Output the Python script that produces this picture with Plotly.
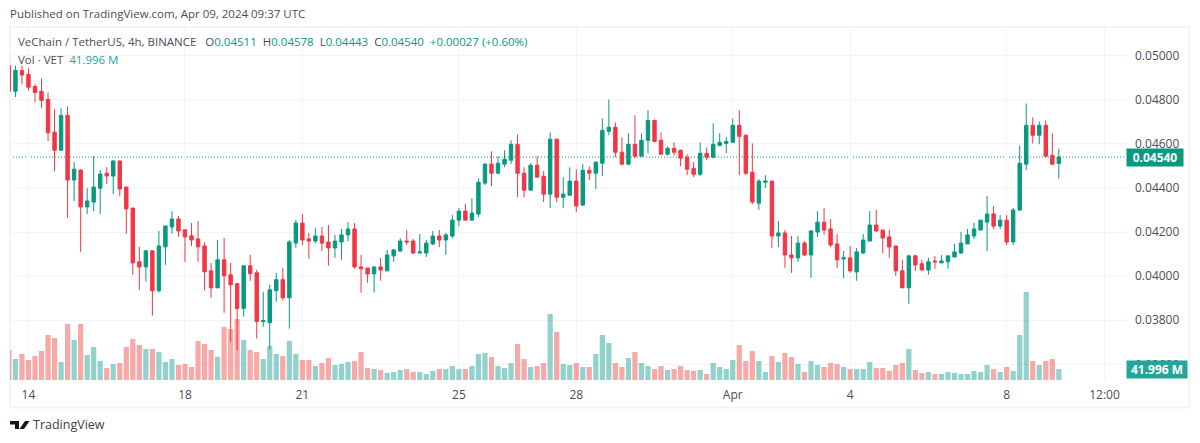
import pandas as pd
import plotly.graph_objects as go

# 4h candles, Mar 13 12:00 to Apr 9 08:00
times = pd.date_range("2024-03-13 12:00", periods=162, freq="4h")

opens = [
    0.04955, 0.04839, 0.04933, 0.04915, 0.04860, 0.04838, 0.04802, 0.04653, 0.04571, 0.04729, 0.04436, 0.04481,
    0.04314, 0.04336, 0.04399, 0.04467, 0.04454, 0.04522, 0.04404, 0.04309, 0.04065, 0.04042, 0.04115, 0.03934,
    0.04133, 0.04223, 0.04259, 0.04210, 0.04183, 0.04169, 0.04137, 0.04024, 0.03947, 0.04074, 0.04006, 0.03966,
    0.03853, 0.04047, 0.04015, 0.03794, 0.03789, 0.03934, 0.03984, 0.03902, 0.04150, 0.04241, 0.04169, 0.04159,
    0.04182, 0.04155, 0.04128, 0.04155, 0.04187, 0.04214, 0.04042, 0.04037, 0.04010, 0.04042, 0.04024, 0.04092,
    0.04114, 0.04159, 0.04159, 0.04105, 0.04105, 0.04146, 0.04182, 0.04164, 0.04182, 0.04254, 0.04295, 0.04254,
    0.04282, 0.04422, 0.04508, 0.04467, 0.04508, 0.04526, 0.04598, 0.04467, 0.04390, 0.04503, 0.04453, 0.04372,
    0.04621, 0.04358, 0.04367, 0.04431, 0.04322, 0.04480, 0.04467, 0.04512, 0.04657, 0.04675, 0.04562, 0.04508,
    0.04598, 0.04544, 0.04616, 0.04706, 0.04616, 0.04553, 0.04580, 0.04571, 0.04539, 0.04489, 0.04462, 0.04557,
    0.04539, 0.04593, 0.04602, 0.04607, 0.04684, 0.04639, 0.04471, 0.04331, 0.04426, 0.04431, 0.04182, 0.04196,
    0.04096, 0.04083, 0.04150, 0.04096, 0.04200, 0.04245, 0.04214, 0.04146, 0.04078, 0.04083, 0.04019, 0.04105,
    0.04159, 0.04232, 0.04209, 0.04178, 0.04137, 0.04024, 0.03947, 0.04092, 0.04056, 0.04028, 0.04069, 0.04060,
    0.04065, 0.04087, 0.04105, 0.04146, 0.04182, 0.04209, 0.04245, 0.04282, 0.04227, 0.04254, 0.04155, 0.04300,
    0.04508, 0.04684, 0.04639, 0.04684, 0.04548, 0.04511,
]
highs = [
    0.04955, 0.04955, 0.04955, 0.04942, 0.04870, 0.04897, 0.04833, 0.04757, 0.04761, 0.04770, 0.04517, 0.04485,
    0.04399, 0.04544, 0.04481, 0.04494, 0.04526, 0.04526, 0.04404, 0.04309, 0.04133, 0.04115, 0.04115, 0.04205,
    0.04228, 0.04295, 0.04273, 0.04210, 0.04241, 0.04250, 0.04155, 0.04060, 0.04164, 0.04173, 0.04060, 0.03966,
    0.04047, 0.04097, 0.04029, 0.03929, 0.03961, 0.04015, 0.04038, 0.04164, 0.04254, 0.04282, 0.04196, 0.04218,
    0.04223, 0.04232, 0.04187, 0.04214, 0.04245, 0.04241, 0.04096, 0.04037, 0.04042, 0.04083, 0.04119, 0.04123,
    0.04173, 0.04209, 0.04169, 0.04191, 0.04164, 0.04205, 0.04209, 0.04196, 0.04277, 0.04309, 0.04327, 0.04354,
    0.04444, 0.04512, 0.04566, 0.04544, 0.04571, 0.04616, 0.04643, 0.04494, 0.04512, 0.04544, 0.04476, 0.04652,
    0.04625, 0.04449, 0.04494, 0.04485, 0.04508, 0.04498, 0.04521, 0.04715, 0.04801, 0.04697, 0.04630, 0.04648,
    0.04729, 0.04648, 0.04752, 0.04711, 0.04652, 0.04589, 0.04607, 0.04575, 0.04553, 0.04517, 0.04607, 0.04584,
    0.04693, 0.04648, 0.04630, 0.04715, 0.04752, 0.04643, 0.04602, 0.04440, 0.04458, 0.04431, 0.04250, 0.04209,
    0.04182, 0.04182, 0.04159, 0.04209, 0.04295, 0.04309, 0.04259, 0.04191, 0.04114, 0.04137, 0.04128, 0.04191,
    0.04295, 0.04300, 0.04209, 0.04209, 0.04137, 0.04074, 0.04096, 0.04096, 0.04074, 0.04083, 0.04092, 0.04096,
    0.04092, 0.04146, 0.04200, 0.04214, 0.04241, 0.04254, 0.04363, 0.04318, 0.04277, 0.04277, 0.04309, 0.04593,
    0.04783, 0.04720, 0.04702, 0.04706, 0.04648, 0.04578,
]
lows = [
    0.04839, 0.04812, 0.04870, 0.04842, 0.04788, 0.04761, 0.04612, 0.04476, 0.04571, 0.04264, 0.04341, 0.04110,
    0.04282, 0.04295, 0.04282, 0.04418, 0.04372, 0.04363, 0.04192, 0.04006, 0.03938, 0.03975, 0.03821, 0.03925,
    0.04051, 0.04192, 0.04178, 0.04065, 0.04137, 0.04065, 0.03934, 0.03902, 0.03947, 0.03834, 0.03703, 0.03664,
    0.03816, 0.03979, 0.03717, 0.03771, 0.03667, 0.03884, 0.03889, 0.03762, 0.04128, 0.04141, 0.04078, 0.04150,
    0.04114, 0.04047, 0.04083, 0.04074, 0.04159, 0.04033, 0.03925, 0.03970, 0.03925, 0.03979, 0.04024, 0.04065,
    0.04110, 0.04141, 0.04101, 0.04105, 0.04087, 0.04141, 0.04132, 0.04096, 0.04173, 0.04227, 0.04254, 0.04254,
    0.04268, 0.04413, 0.04408, 0.04462, 0.04494, 0.04508, 0.04358, 0.04358, 0.04390, 0.04449, 0.04336, 0.04309,
    0.04336, 0.04309, 0.04367, 0.04291, 0.04322, 0.04435, 0.04395, 0.04453, 0.04639, 0.04539, 0.04503, 0.04503,
    0.04535, 0.04544, 0.04557, 0.04607, 0.04553, 0.04548, 0.04548, 0.04498, 0.04458, 0.04449, 0.04453, 0.04526,
    0.04535, 0.04589, 0.04557, 0.04607, 0.04458, 0.04458, 0.04327, 0.04300, 0.04399, 0.04128, 0.04132, 0.04037,
    0.04015, 0.04065, 0.04092, 0.03992, 0.04178, 0.04187, 0.04132, 0.04037, 0.03992, 0.04015, 0.03979, 0.04101,
    0.04159, 0.04200, 0.04105, 0.04083, 0.04001, 0.03947, 0.03875, 0.04024, 0.04028, 0.04006, 0.04033, 0.04060,
    0.04033, 0.04087, 0.04101, 0.04146, 0.04169, 0.04209, 0.04114, 0.04214, 0.04214, 0.04141, 0.04141, 0.04295,
    0.04480, 0.04602, 0.04598, 0.04544, 0.04503, 0.04443,
]
closes = [
    0.04839, 0.04933, 0.04912, 0.04857, 0.04833, 0.04797, 0.04650, 0.04571, 0.04729, 0.04436, 0.04485, 0.04314,
    0.04341, 0.04404, 0.04463, 0.04454, 0.04522, 0.04395, 0.04305, 0.04060, 0.04042, 0.04115, 0.03934, 0.04137,
    0.04228, 0.04259, 0.04205, 0.04178, 0.04164, 0.04133, 0.04020, 0.03947, 0.04074, 0.04002, 0.03961, 0.03853,
    0.04047, 0.04011, 0.03794, 0.03798, 0.03938, 0.03984, 0.03902, 0.04155, 0.04241, 0.04164, 0.04159, 0.04182,
    0.04150, 0.04128, 0.04159, 0.04187, 0.04214, 0.04042, 0.04033, 0.04010, 0.04042, 0.04028, 0.04096, 0.04119,
    0.04159, 0.04155, 0.04105, 0.04110, 0.04150, 0.04182, 0.04164, 0.04187, 0.04254, 0.04295, 0.04254, 0.04286,
    0.04426, 0.04508, 0.04467, 0.04512, 0.04530, 0.04598, 0.04467, 0.04390, 0.04503, 0.04449, 0.04372, 0.04621,
    0.04358, 0.04372, 0.04431, 0.04318, 0.04480, 0.04467, 0.04517, 0.04661, 0.04675, 0.04562, 0.04508, 0.04598,
    0.04544, 0.04616, 0.04706, 0.04611, 0.04553, 0.04580, 0.04562, 0.04535, 0.04485, 0.04462, 0.04557, 0.04539,
    0.04598, 0.04607, 0.04611, 0.04684, 0.04634, 0.04467, 0.04336, 0.04431, 0.04431, 0.04182, 0.04196, 0.04096,
    0.04083, 0.04150, 0.04096, 0.04205, 0.04245, 0.04209, 0.04141, 0.04074, 0.04083, 0.04024, 0.04110, 0.04164,
    0.04232, 0.04205, 0.04173, 0.04132, 0.04024, 0.03947, 0.04092, 0.04051, 0.04028, 0.04065, 0.04065, 0.04069,
    0.04092, 0.04110, 0.04150, 0.04187, 0.04214, 0.04254, 0.04282, 0.04227, 0.04254, 0.04155, 0.04300, 0.04512,
    0.04684, 0.04639, 0.04684, 0.04544, 0.04508, 0.04540,
]

# volume in millions of VET
volumes = [
    114.5, 80.2, 99.3, 76.4, 91.6, 110.7, 171.8, 160.3, 68.7, 213.8, 152.7, 213.8,
    95.4, 126.0, 72.5, 45.8, 61.1, 64.9, 126.0, 156.5, 133.6, 118.4, 118.4, 106.9,
    68.7, 80.2, 57.3, 61.1, 49.6, 148.9, 137.4, 114.5, 87.8, 202.3, 194.7, 232.9,
    152.7, 114.5, 106.9, 80.2, 129.8, 99.3, 91.6, 148.9, 99.3, 76.4, 76.4, 53.4,
    64.9, 84.0, 57.3, 61.1, 68.7, 72.5, 106.9, 45.8, 42.0, 38.2, 26.7, 30.5,
    38.2, 42.0, 30.5, 30.5, 22.9, 34.4, 42.0, 42.0, 53.4, 42.0, 42.0, 53.4,
    99.3, 103.1, 87.8, 53.4, 45.8, 64.9, 137.4, 80.2, 49.6, 53.4, 64.9, 252.0,
    183.3, 61.1, 57.3, 64.9, 49.6, 49.6, 99.3, 171.8, 141.3, 64.9, 49.6, 84.0,
    106.9, 64.9, 53.4, 42.0, 53.4, 38.2, 42.0, 53.4, 38.2, 34.4, 38.2, 22.9,
    64.9, 49.6, 42.0, 76.4, 133.6, 72.5, 110.7, 72.5, 30.5, 91.6, 68.7, 103.1,
    87.8, 61.1, 30.5, 72.5, 57.3, 49.6, 64.9, 61.1, 49.6, 42.0, 42.0, 42.0,
    68.7, 45.8, 45.8, 34.4, 57.3, 64.9, 118.4, 38.2, 26.7, 30.5, 22.9, 22.9,
    30.5, 26.7, 22.9, 22.9, 34.4, 30.5, 57.3, 42.0, 30.5, 49.6, 34.4, 171.8,
    336.0, 72.5, 57.3, 72.5, 80.2, 42.0,
]

price_ticks = [0.036, 0.038, 0.04, 0.042, 0.044, 0.046, 0.048, 0.05]
date_ticks = ["2024-03-14", "2024-03-18", "2024-03-21", "2024-03-25", "2024-03-28",
              "2024-04-01", "2024-04-04", "2024-04-08", "2024-04-10 12:00"]
date_labels = ["14", "18", "21", "25", "28", "Apr", "4", "8", "12:00"]

UP = "#089981"
DOWN = "#F23645"
GRID = "#F3F4F6"
TEXT = "#4A4D57"
FONT = "Open Sans"
W, H = 1200, 443
L, R, T, B = 10, 74, 27, 63
PW = W - L - R
PH = H - T - B


def px(x):
    return (x - L) / PW


def py(y):
    return (H - B - y) / PH


bar_colors = ["rgba(38,166,154,0.5)" if c >= o else "rgba(239,83,80,0.5)" for o, c in zip(opens, closes)]

fig = go.Figure()
fig.add_trace(go.Bar(x=times, y=volumes, marker_color=bar_colors, marker_line_width=0, yaxis="y"))
fig.add_trace(go.Candlestick(
    x=times, open=opens, high=highs, low=lows, close=closes, yaxis="y2",
    increasing=dict(line=dict(color=UP, width=1), fillcolor=UP),
    decreasing=dict(line=dict(color=DOWN, width=1), fillcolor=DOWN),
))

fig.update_layout(
    width=W, height=H,
    margin=dict(l=L, r=R, t=T, b=B),
    paper_bgcolor="white", plot_bgcolor="white",
    showlegend=False, bargap=0.2, boxgap=0.25,
    font=dict(family=FONT, size=12, color=TEXT),
    xaxis=dict(
        type="date", rangeslider_visible=False,
        range=["2024-03-13 12:40", "2024-04-11 01:12"],
        tickmode="array", tickvals=date_ticks, ticktext=date_labels,
        showgrid=True, gridcolor=GRID, gridwidth=1, zeroline=False, showline=False, ticks="",
        ticklabelstandoff=6, tickfont=dict(size=12, color=TEXT),
    ),
    yaxis=dict(range=[0, 1348], visible=False, showgrid=False, fixedrange=True),
    yaxis2=dict(
        overlaying="y", side="right", range=[0.03529, 0.0513],
        tickmode="array", tickvals=price_ticks, tickformat=".5f",
        showgrid=True, gridcolor=GRID, gridwidth=1, zeroline=False, showline=False, ticks="",
        ticklabelstandoff=8, tickfont=dict(size=12, color=TEXT),
    ),
)

# dotted line at the last close
fig.add_shape(type="line", xref="paper", x0=0, x1=1, yref="y2", y0=closes[-1], y1=closes[-1],
              line=dict(color=UP, width=1, dash="1px,2px"), layer="between")

# frame around the widget
fig.add_shape(type="rect", xref="paper", yref="paper", x0=px(10), x1=px(1189.5), y0=py(407.5), y1=py(27),
              line=dict(color="#F0F3FA", width=2), fillcolor="rgba(0,0,0,0)", layer="below")

# TradingView logo
logo_paths = [
    "M 0 8 L 9 8 L 9 0 L 5 0 L 5 4.5 L 0 4.5 Z",
    "M 10 6 A 2 2 0 1 1 14 6 A 2 2 0 1 1 10 6 Z",
    "M 15 8 L 19.5 8 L 14 0 L 9.5 0 Z",
]
for path in logo_paths:
    fig.add_shape(type="path", path=path, xref="paper", yref="paper",
                  xsizemode="pixel", ysizemode="pixel", xanchor=px(10), yanchor=py(429),
                  fillcolor="#131722", line_width=0)


def note(x, y, text, size=12, color=TEXT):
    fig.add_annotation(xref="paper", yref="paper", x=px(x), y=py(y), text=text, showarrow=False,
                       xanchor="left", yanchor="middle", align="left", font=dict(size=size, color=color))


def green(s):
    return f'<span style="color:{UP}">{s}</span>'


last_vol = "41.996 M"
note(8, 14, "Published on TradingView.com, Apr 09, 2024 09:37 UTC", size=11.5)
note(16, 42, "VeChain / TetherUS, 4h, BINANCE   O" + green(f"{opens[-1]:.5f}") + "  H" + green(f"{highs[-1]:.5f}")
     + "  L" + green(f"{lows[-1]:.5f}") + "  C" + green(f"{closes[-1]:.5f}") + "  " + green("+0.00027 (+0.60%)"), size=11.5)
note(16, 59, 'Vol · VET  <span style="color:#26A69A">' + last_vol + "</span>", size=11.5)
note(31, 425, "TradingView", size=12.5, color="#3A3E4A")

# value tags on the price scale
fig.add_annotation(xref="paper", yref="y2", x=1, y=closes[-1], xanchor="left", yanchor="middle", showarrow=False,
                   text=f"<b>{closes[-1]:.5f}</b>", width=56, height=17, bgcolor=UP, align="center",
                   font=dict(size=12, color="white"), borderpad=0)
fig.add_annotation(xref="paper", yref="paper", x=1, y=py(369.5), xanchor="left", yanchor="middle", showarrow=False,
                   text=f"<b>{last_vol}</b>", width=60, height=17, bgcolor="#26A69A", align="center",
                   font=dict(size=12, color="white"), borderpad=0)

fig.write_html("out.html", post_script="document.body.style.margin='0';", config={"displayModeBar": False})
